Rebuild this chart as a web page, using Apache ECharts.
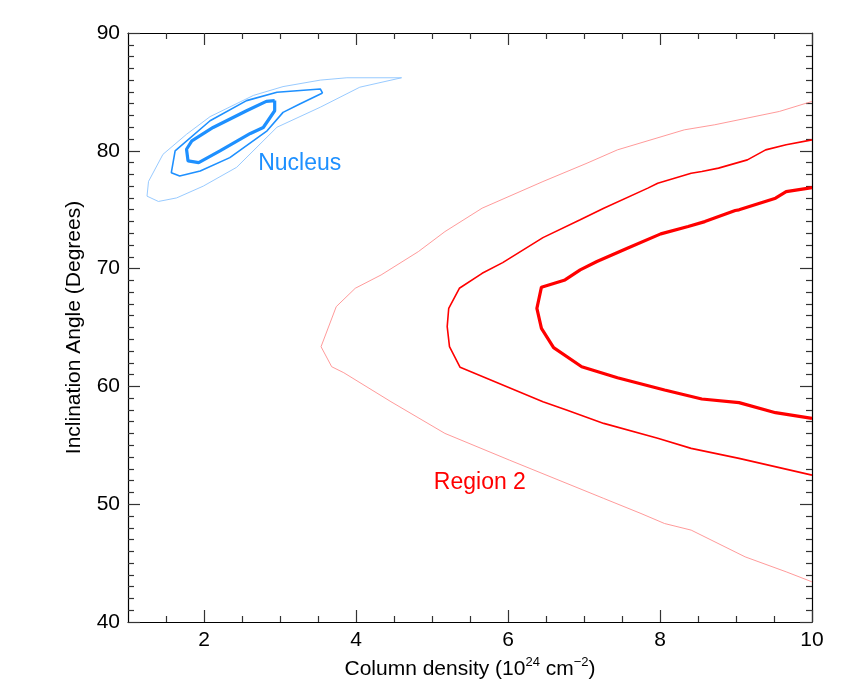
<!DOCTYPE html>
<html>
<head>
<meta charset="utf-8">
<script src="https://cdn.jsdelivr.net/npm/echarts@6/dist/echarts.min.js"></script>
<style>
  html, body { margin: 0; padding: 0; background: #fff; }
  #chart { width: 855px; height: 692px; }
</style>
</head>
<body>
<div id="chart"></div>
<script>
// tick positions
const xMajorTicks = [2, 4, 6, 8, 10];
const xMinorTicks = [1.5, 2.5, 3, 3.5, 4.5, 5, 5.5, 6.5, 7, 7.5, 8.5, 9, 9.5];
const yMajorTicks = [40, 50, 60, 70, 80, 90];
const yMinorTicks = [
  41, 42, 43, 44, 45, 46, 47, 48, 49,
  51, 52, 53, 54, 55, 56, 57, 58, 59,
  61, 62, 63, 64, 65, 66, 67, 68, 69,
  71, 72, 73, 74, 75, 76, 77, 78, 79,
  81, 82, 83, 84, 85, 86, 87, 88, 89,
];

// nucleus contours (closed)
const nucleusOuter = [
  [4.60, 86.2], [3.88, 86.2], [3.53, 86.0], [3.04, 85.45], [2.65, 84.7], [2.08, 82.9],
  [1.77, 81.4], [1.46, 79.7], [1.27, 77.4], [1.25, 76.15], [1.40, 75.7], [1.64, 76.0],
  [1.99, 77.0], [2.43, 78.6], [2.96, 82.0], [3.53, 83.7], [4.05, 85.4], [4.60, 86.2],
];
const nucleusMid = [
  [3.56, 84.9], [3.53, 85.25], [2.96, 84.97], [2.56, 84.26], [2.08, 82.55], [1.62, 80.0],
  [1.57, 78.14], [1.68, 77.86], [1.95, 78.28], [2.34, 79.42], [2.83, 81.7], [3.04, 83.26],
  [3.26, 83.97], [3.56, 84.9],
];
const nucleusInner = [
  [2.93, 84.26], [2.82, 84.2], [2.56, 83.4], [2.12, 81.98], [1.84, 80.85], [1.77, 80.13],
  [1.79, 79.14], [1.93, 79.0], [2.21, 79.99], [2.61, 81.47], [2.78, 81.98], [2.93, 83.4],
  [2.93, 84.26],
];

// region 2 contours (open, run off the right edge)
const regionOuter = [
  [10, 84.19], [9.57, 83.34], [8.72, 82.21], [8.32, 81.78], [7.44, 80.08], [7.04, 78.95],
  [6.46, 77.39], [5.66, 75.13], [5.17, 73.14], [4.82, 71.44], [4.33, 69.46], [3.99, 68.33],
  [3.74, 66.77], [3.54, 63.37], [3.68, 61.67], [3.84, 61.16], [4.46, 58.70], [5.17, 56.01],
  [6.02, 53.74], [7.26, 50.49], [7.75, 49.21], [8.06, 48.36], [8.41, 47.80], [9.12, 45.53],
  [9.66, 44.26], [10, 43.41],
];
const regionMid = [
  [10, 80.93], [9.66, 80.51], [9.39, 80.08], [9.15, 79.23], [8.77, 78.53], [8.55, 78.24],
  [8.41, 78.10], [7.97, 77.25], [7.84, 76.83], [7.26, 75.13], [6.95, 74.14], [6.46, 72.63],
  [5.93, 70.51], [5.66, 69.60], [5.36, 68.33], [5.22, 66.63], [5.20, 65.07], [5.23, 63.37],
  [5.37, 61.62], [6.46, 58.70], [6.77, 57.99], [7.26, 56.86], [7.97, 55.59], [8.41, 54.74],
  [9.04, 53.89], [10, 52.47],
];
const regionInner = [
  [10, 76.88], [9.66, 76.54], [9.52, 75.98], [9.04, 74.99], [8.99, 74.93], [8.59, 73.99],
  [8.37, 73.57], [8.01, 72.95], [7.57, 71.73], [7.17, 70.6], [6.95, 69.89], [6.75, 69.04],
  [6.44, 68.42], [6.38, 66.63], [6.44, 64.93], [6.60, 63.29], [6.97, 61.67], [7.44, 60.74],
  [8.06, 59.69], [8.55, 58.93], [9.04, 58.62], [9.52, 57.77], [10, 57.29],
];

// text labels
const labelNames = ['Nucleus', 'Region 2'];
const labelPos = [[3.26, 78.95], [5.63, 51.8]];
const labelColors = ['#1e90ff', '#ff0000'];

const FONT = "'Liberation Sans', Arial, Helvetica, sans-serif";
const AXIS_COLOR = '#000';

const chart = echarts.init(document.getElementById('chart'));

function xAxisDef(position, ticks, len, showLine, showLabel) {
  return {
    type: 'value',
    position: position,
    min: 1,
    max: 10,
    axisLine: { show: showLine, onZero: false, lineStyle: { color: AXIS_COLOR, width: 1.2 } },
    axisTick: { show: true, inside: true, length: len, customValues: ticks,
      lineStyle: { color: '#333', width: 1.2 } },
    axisLabel: { show: showLabel, customValues: ticks, color: '#000', fontSize: 21,
      fontFamily: FONT, margin: 8 },
    splitLine: { show: false },
  };
}

function yAxisDef(position, ticks, len, showLine, showLabel) {
  return {
    type: 'value',
    position: position,
    min: 40,
    max: 90,
    axisLine: { show: showLine, onZero: false, lineStyle: { color: AXIS_COLOR, width: 1.2 } },
    axisTick: { show: true, inside: true, length: len, customValues: ticks,
      lineStyle: { color: '#333', width: 1.2 } },
    axisLabel: { show: showLabel, customValues: ticks, color: '#000', fontSize: 21,
      fontFamily: FONT, margin: 8 },
    splitLine: { show: false },
  };
}

function contour(data, color, width) {
  return {
    type: 'line',
    data: data,
    xAxisIndex: 0,
    yAxisIndex: 0,
    showSymbol: false,
    symbol: 'none',
    lineStyle: { color: color, width: width },
    silent: true,
  };
}

const xBottom = xAxisDef('bottom', xMajorTicks, 12, true, true);
xBottom.name = '{a|Column density (10}{s|24}{a| cm}{s|\u22122}{a|)}';
xBottom.nameLocation = 'middle';
xBottom.nameGap = 33;
xBottom.nameTextStyle = {
  rich: {
    a: { fontSize: 21, fontFamily: FONT, color: '#000', lineHeight: 26 },
    s: { fontSize: 13, fontFamily: FONT, color: '#000', lineHeight: 26, verticalAlign: 'top', padding: [0, 0, 10, 0] },
  },
};

const yLeft = yAxisDef('left', yMajorTicks, 12, true, true);
yLeft.name = 'Inclination Angle (Degrees)';
yLeft.nameLocation = 'middle';
yLeft.nameGap = 43;
yLeft.nameTextStyle = { fontSize: 21, fontFamily: FONT, color: '#000' };

const option = {
  animation: false,
  backgroundColor: '#fff',
  grid: { left: 128, right: 43, top: 33, bottom: 70, containLabel: false },
  xAxis: [
    xBottom,
    xAxisDef('top', xMajorTicks, 12, true, false),
    xAxisDef('bottom', xMinorTicks, 6, false, false),
    xAxisDef('top', xMinorTicks, 6, false, false),
  ],
  yAxis: [
    yLeft,
    yAxisDef('right', yMajorTicks, 12, true, false),
    yAxisDef('left', yMinorTicks, 6, false, false),
    yAxisDef('right', yMinorTicks, 6, false, false),
  ],
  series: [
    contour(regionOuter, '#ff8f8f', 0.9),
    contour(regionMid, '#ff0000', 1.6),
    contour(regionInner, '#ff0000', 3.2),
    contour(nucleusOuter, '#8cc4ff', 0.9),
    contour(nucleusMid, '#1e90ff', 1.6),
    contour(nucleusInner, '#1e90ff', 3.2),
  ],
};

chart.setOption(option);

// place the two region labels at their data coordinates
const labels = labelNames.map((name, i) => {
  const p = chart.convertToPixel({ xAxisIndex: 0, yAxisIndex: 0 }, labelPos[i]);
  return {
    type: 'text',
    x: p[0],
    y: p[1],
    silent: true,
    style: {
      text: name,
      fill: labelColors[i],
      font: '23px ' + FONT,
      align: 'center',
      verticalAlign: 'middle',
    },
  };
});
chart.setOption({ graphic: labels });
</script>
</body>
</html>
